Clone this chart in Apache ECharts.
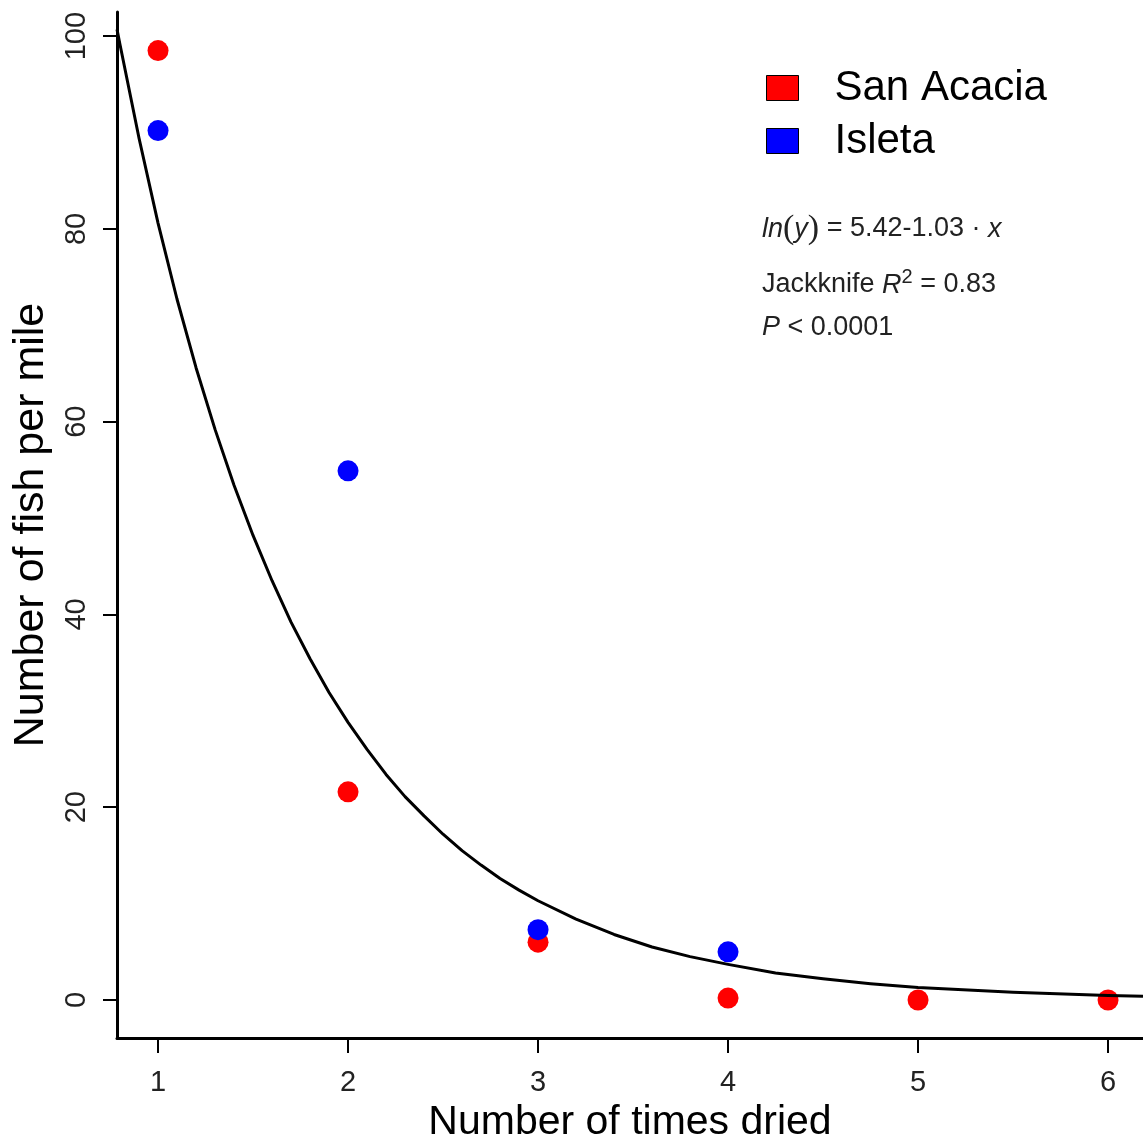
<!DOCTYPE html>
<html><head><meta charset="utf-8">
<style>html,body{margin:0;padding:0;background:#fff;}#c{width:1143px;height:1144px;}</style>
<script src="https://cdn.jsdelivr.net/npm/echarts@6/dist/echarts.min.js"></script>
</head><body><div id="c"></div>
<script>
var xTicks = [1, 2, 3, 4, 5, 6];
var yTicks = [0, 20, 40, 60, 80, 100];
var sanAcaciaX = [1, 2, 3, 4, 5, 6];
var sanAcaciaY = [98.5, 21.6, 6.0, 0.2, 0.0, 0.0];
var isletaX = [1, 2, 3, 4];
var isletaY = [90.2, 54.9, 7.3, 5.0];
// fitted curve ln(y) = 5.42 - 1.03x
var curveX = [0.784, 0.8, 0.9, 1.0, 1.1, 1.2, 1.3, 1.4, 1.5, 1.6, 1.7, 1.8, 1.9, 2.0, 2.1, 2.2, 2.3, 2.4, 2.5, 2.6, 2.7, 2.8, 2.9, 3.0, 3.2, 3.4, 3.6, 3.8, 4.0, 4.25, 4.5, 4.75, 5.0, 5.5, 6.0, 6.184];
var curveY = [100.7, 99.1, 89.4, 80.6, 72.7, 65.6, 59.2, 53.4, 48.2, 43.5, 39.2, 35.4, 31.9, 28.8, 26.0, 23.4, 21.1, 19.1, 17.2, 15.5, 14.0, 12.6, 11.4, 10.3, 8.4, 6.8, 5.5, 4.5, 3.7, 2.8, 2.2, 1.7, 1.3, 0.8, 0.47, 0.39];

function zip(a, b) { return a.map(function (v, i) { return [v, b[i]]; }); }
var narrow = '"Liberation Sans Narrow", "Liberation Sans", Arial, sans-serif';
var sans = '"Liberation Sans", Arial, sans-serif';

var chart = echarts.init(document.getElementById('c'), null, {renderer: 'canvas'});
chart.setOption({
  animation: false,
  backgroundColor: '#fff',
  grid: {left: 117, right: 0, top: 12, bottom: 106, containLabel: false, outerBoundsMode: 'none'},
  legend: {
    orient: 'vertical', left: 761, top: 62,
    itemWidth: 32, itemHeight: 25, itemGap: 11,
    icon: 'rect',
    data: [
      {name: 'San Acacia', itemStyle: {color: '#ff0000', borderColor: '#000', borderWidth: 1}},
      {name: 'Isleta', itemStyle: {color: '#0000ff', borderColor: '#000', borderWidth: 1}}
    ],
    textStyle: {fontFamily: sans, fontSize: 42, lineHeight: 40, color: '#000', padding: [0, 0, 0, 31]}
  },
  xAxis: {
    type: 'value', min: 0.784, max: 6.184,
    name: 'Number of times dried', nameLocation: 'middle', nameGap: 63,
    nameTextStyle: {fontFamily: sans, fontSize: 41, color: '#000'},
    axisLine: {show: true, onZero: false, lineStyle: {color: '#000', width: 3}},
    axisTick: {show: true, length: 15, customValues: xTicks, lineStyle: {color: '#000', width: 2}},
    axisLabel: {customValues: xTicks, fontFamily: narrow, fontSize: 29, color: '#222', margin: 30},
    splitLine: {show: false}
  },
  yAxis: {
    type: 'value', min: -3.94, max: 102.5,
    name: 'Number of fish per mile', nameLocation: 'middle', nameGap: 64,
    nameTextStyle: {fontFamily: sans, fontSize: 43, color: '#000'},
    axisLine: {show: true, onZero: false, lineStyle: {color: '#000', width: 3}},
    axisTick: {show: true, length: 14, customValues: yTicks, lineStyle: {color: '#000', width: 2}},
    axisLabel: {customValues: yTicks, rotate: 90, fontFamily: narrow, fontSize: 29, color: '#222', margin: 26},
    splitLine: {show: false}
  },
  series: [
    {name: 'San Acacia', type: 'scatter', data: zip(sanAcaciaX, sanAcaciaY), symbol: 'circle', symbolSize: 21,
      itemStyle: {color: '#ff0000', opacity: 1}, z: 2},
    {name: 'Isleta', type: 'scatter', data: zip(isletaX, isletaY), symbol: 'circle', symbolSize: 21,
      itemStyle: {color: '#0000ff', opacity: 1}, z: 3},
    {name: 'fit', type: 'line', data: zip(curveX, curveY), smooth: false, showSymbol: false,
      lineStyle: {color: '#000', width: 3, join: 'round'}, z: 4, silent: true}
  ],
  graphic: [
    {type: 'text', left: 762, top: 212, style: {
      text: '{i|ln}{p|(}{i|y}{p|)} = 5.42-1.03 · {i|x}',
      font: '27px ' + narrow, fill: '#222',
      rich: {i: {fontFamily: narrow, fontStyle: 'italic', fontSize: 27, fill: '#222'},
             p: {fontFamily: '"Liberation Serif", serif', fontSize: 34, fill: '#222'}}
    }},
    {type: 'text', left: 762, top: 267, style: {
      text: 'Jackknife {i|R}{s|2} = 0.83',
      font: '27px ' + narrow, fill: '#222',
      rich: {i: {fontFamily: narrow, fontStyle: 'italic', fontSize: 27, fill: '#222'},
             s: {fontFamily: narrow, fontSize: 20, fill: '#222', verticalAlign: 'top', padding: [0, 0, 16, 0]}}
    }},
    {type: 'text', left: 762, top: 314, style: {
      text: '{i|P} < 0.0001',
      font: '27px ' + narrow, fill: '#222',
      rich: {i: {fontFamily: narrow, fontStyle: 'italic', fontSize: 27, fill: '#222'}}
    }}
  ]
});
</script></body></html>
